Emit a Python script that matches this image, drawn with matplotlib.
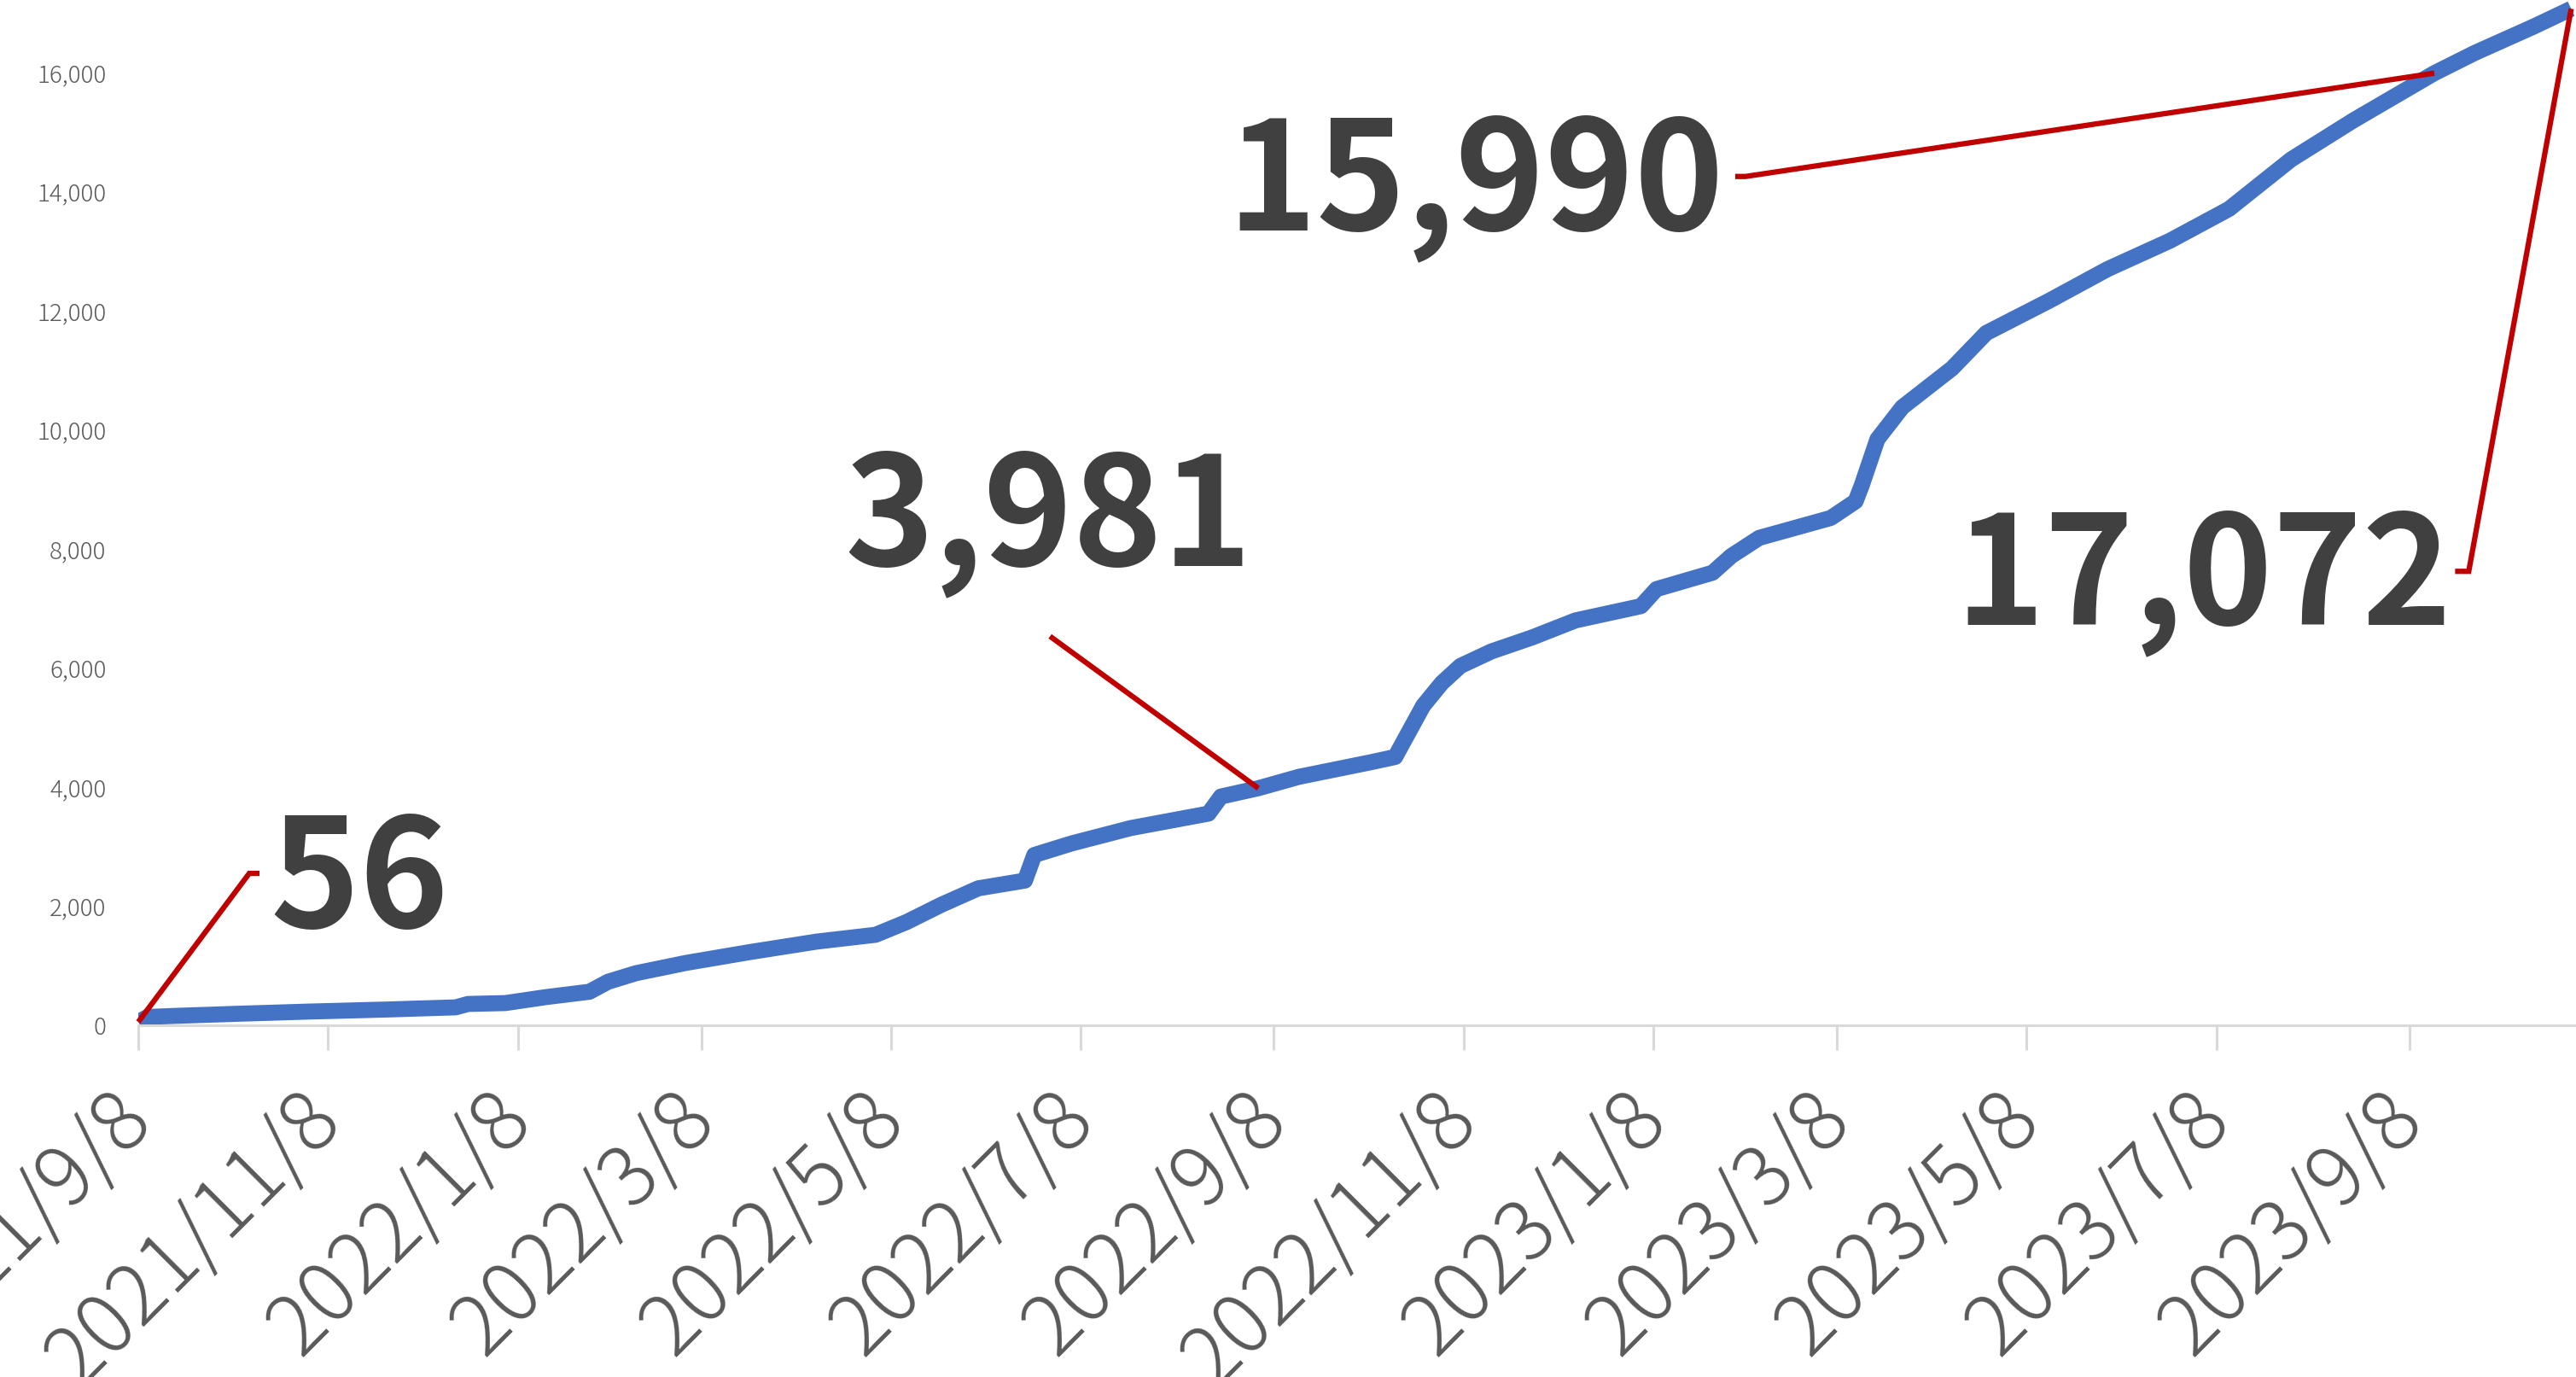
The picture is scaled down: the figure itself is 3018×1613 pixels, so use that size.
import matplotlib
matplotlib.use('Agg')
import matplotlib.pyplot as plt
import matplotlib.dates as mdates
from matplotlib.lines import Line2D
from matplotlib.transforms import IdentityTransform
from matplotlib.ticker import FuncFormatter
import pandas as pd

# cumulative count
dates = ['2021-09-08', '2021-09-11', '2021-09-20', '2021-10-08', '2021-11-01',
         '2021-11-27', '2021-12-19', '2021-12-23', '2022-01-04', '2022-01-17',
         '2022-01-31', '2022-02-06', '2022-02-15', '2022-03-03', '2022-03-24',
         '2022-04-14', '2022-05-03', '2022-05-13', '2022-05-24', '2022-06-05',
         '2022-06-20', '2022-06-23', '2022-07-05', '2022-07-24', '2022-08-18',
         '2022-08-22', '2022-09-03', '2022-09-16', '2022-10-09', '2022-10-17',
         '2022-10-21', '2022-10-26', '2022-11-01', '2022-11-07', '2022-11-17',
         '2022-11-30', '2022-12-14', '2023-01-04', '2023-01-09', '2023-01-27',
         '2023-02-02', '2023-02-11', '2023-03-06', '2023-03-14', '2023-03-16',
         '2023-03-21', '2023-03-29', '2023-04-14', '2023-04-25', '2023-05-15',
         '2023-06-03', '2023-06-23', '2023-07-12', '2023-08-01', '2023-08-21',
         '2023-09-16', '2023-09-29', '2023-10-18', '2023-10-30']
values = [56, 140, 158, 190, 229,
          265, 301, 358, 373, 473,
          563, 731, 875, 1047, 1233,
          1405, 1520, 1735, 2021, 2300,
          2430, 2860, 3054, 3312, 3555,
          3842, 3981, 4172, 4416, 4506,
          4889, 5366, 5749, 6036, 6280,
          6513, 6800, 7039, 7326, 7600,
          7880, 8186, 8520, 8800, 9072,
          9842, 10380, 11032, 11627, 12162,
          12700, 13175, 13709, 14542, 15197,
          15990, 16330, 16774, 17072]

tick_dates = ['2021-09-08', '2021-11-08', '2022-01-08', '2022-03-08', '2022-05-08',
              '2022-07-08', '2022-09-08', '2022-11-08', '2023-01-08', '2023-03-08',
              '2023-05-08', '2023-07-08', '2023-09-08']
tick_labels = ['2021/9/8', '2021/11/8', '2022/1/8', '2022/3/8', '2022/5/8',
               '2022/7/8', '2022/9/8', '2022/11/8', '2023/1/8', '2023/3/8',
               '2023/5/8', '2023/7/8', '2023/9/8']
y_ticks = [0, 2000, 4000, 6000, 8000, 10000, 12000, 14000, 16000]

# points that get a big callout
callout_dates = ['2021-09-08', '2022-09-03', '2023-09-16', '2023-10-30']

plt.rcParams['font.family'] = ['Noto Sans CJK JP', 'DejaVu Sans']

W, H = 3018, 1613
fig = plt.figure(figsize=(W / 100, H / 100), dpi=100)
ax = fig.add_axes([162 / W, (H - 1201) / H, 2854 / W, 1201 / H])

ax.plot(pd.to_datetime(dates), values, color='#4472C4', lw=13.5,
        solid_joinstyle='round', solid_capstyle='butt')

ax.set_xlim(pd.Timestamp('2021-09-08'), pd.Timestamp('2023-10-31'))
ax.set_ylim(0, 17219)

for s in ['top', 'right', 'left']:
    ax.spines[s].set_visible(False)
ax.spines['bottom'].set_color('#D9D9D9')
ax.spines['bottom'].set_linewidth(2.2)

ax.set_yticks(y_ticks)
ax.yaxis.set_major_formatter(FuncFormatter(lambda v, p: f'{int(v):,}'))
ax.tick_params(axis='y', length=0, pad=27, labelsize=20, labelcolor='#595959')

ax.set_xticks(pd.to_datetime(tick_dates), tick_labels)
ax.tick_params(axis='x', length=21, width=2.2, color='#D9D9D9', pad=47.5,
               labelsize=70, labelcolor='#595959')
for lbl in ax.get_xticklabels():
    lbl.set_rotation(45)
    lbl.set_ha('right')
    lbl.set_va('center')
    lbl.set_rotation_mode('anchor')
    lbl.set_fontweight('light')
for lbl in ax.get_yticklabels():
    lbl.set_fontweight('light')

# leader geometry in pixels, relative to the labelled point:
# knee offset, horizontal stub end (or None), text anchor offset, alignment
leaders = [
    ((130, 174), 142, (154, 110), 'left'),
    ((-244, 178), None, (-246, 261), 'center'),
    ((-807, -121), -819, (-832, -184), 'right'),
    ((-120, -659), -136, (-140, -721), 'right'),
]

for d, (knee, stub, toff, ha) in zip(callout_dates, leaders):
    v = values[dates.index(d)]
    px, py = ax.transData.transform((mdates.date2num(pd.Timestamp(d)), v))
    xs = [px, px + knee[0]]
    ys = [py, py + knee[1]]
    if stub is not None:
        xs.append(px + stub)
        ys.append(py + knee[1])
    fig.add_artist(Line2D(xs, ys, transform=IdentityTransform(), color='#C00000',
                          lw=4.5, solid_joinstyle='miter', solid_capstyle='butt'))
    fig.text(px + toff[0], py + toff[1], f'{v:,}', transform=IdentityTransform(),
             ha=ha, va='baseline', fontsize=128, fontweight='bold', color='#404040')

fig.savefig('out.png', dpi=100)
